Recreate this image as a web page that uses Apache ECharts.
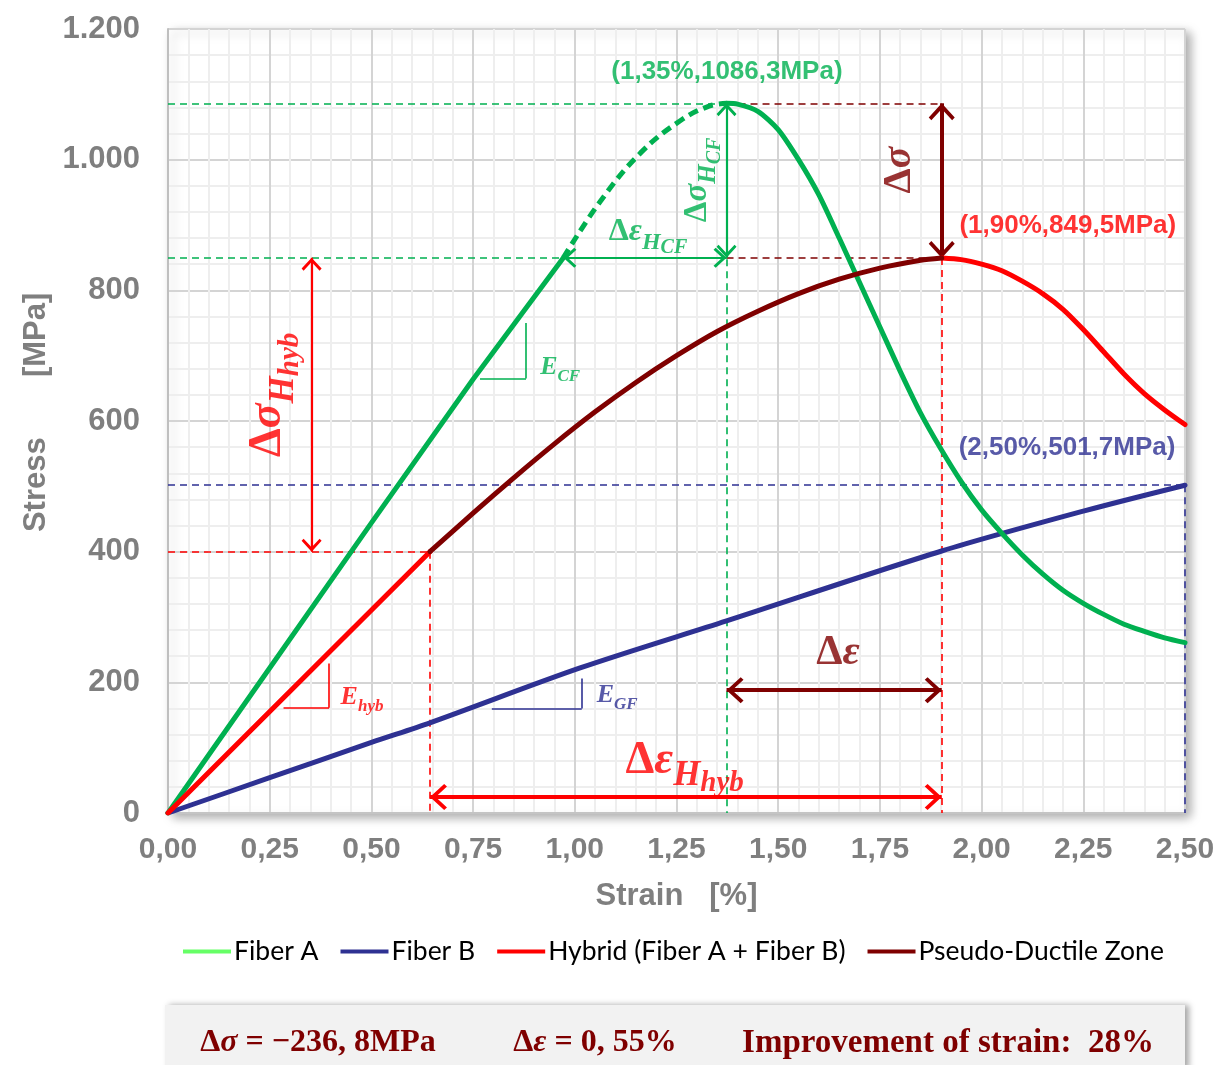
<!DOCTYPE html>
<html><head><meta charset="utf-8">
<script src="https://cdn.jsdelivr.net/npm/echarts@6/dist/echarts.min.js"></script>
<style>html,body{margin:0;padding:0;background:#fff}#c{width:1222px;height:1065px}</style>
</head><body><div id="c"></div><script>
// ---------------- data (strain %, stress MPa) ----------------
const fiberARise = [[0,0],[0.25,222],[0.5,444],[0.75,664],[0.972,850]];
const fiberAHardening = [[0.972,850],[1.0625,936],[1.161,1010],[1.26,1060],[1.33,1082],[1.373,1086.3]];
const fiberAFall = [[1.373,1086.3],[1.4,1085],[1.45,1074],[1.5,1046],[1.55,1000],[1.6,946],[1.65,880],[1.7,812],[1.75,744],[1.8,676],[1.85,612],[1.9,557],[1.95,507],[2.0,464],[2.05,428],[2.1,395],[2.15,366],[2.2,341],[2.25,321],[2.3,304],[2.35,289],[2.4,278],[2.45,268],[2.5,260.7]];
const fiberB = [[0,0],[0.25,54],[0.5,108],[0.644,138],[1.013,222],[1.373,294],[1.902,401],[2.25,462],[2.5,501.7]];
const hybridElastic = [[0,0],[0.644,400]];
const pseudoDuctile = [[0.644,400],[0.75,459],[0.85,513],[0.95,565],[1.05,614],[1.15,659],[1.25,700],[1.35,737],[1.45,768],[1.55,795],[1.65,817],[1.75,834],[1.85,846],[1.902,849.5]];
const hybridSoftening = [[1.902,849.5],[1.95,847],[2.0,840],[2.05,830],[2.1,814],[2.15,795],[2.2,771],[2.25,740],[2.3,706],[2.35,672],[2.4,642],[2.45,617],[2.5,594.6]];
const xTickValues = [0,0.25,0.5,0.75,1,1.25,1.5,1.75,2,2.25,2.5];
const yTickValues = [0,200,400,600,800,1000,1200];
const legendNames = ['Fiber A','Fiber B','Hybrid (Fiber A + Fiber B)','Pseudo-Ductile Zone'];

// guide lines [x1,y1,x2,y2,group]
const guideLines = [
  [0,1086.3,1.373,1086.3,'A'],[1.373,1086.3,1.902,1086.3,'P'],
  [0,850,1.373,850,'A'],[1.373,849.5,1.902,849.5,'P'],
  [1.373,1086.3,1.373,0,'A'],[1.902,849.5,1.902,0,'H'],
  [0,400,0.644,400,'H'],[0.644,400,0.644,0,'H'],
  [0,501.7,2.5,501.7,'B'],[2.5,501.7,2.5,0,'B']
];
// double arrows [x1,y1,x2,y2,group,weight]
const arrows = [
  [0.972,850,1.373,850,'A',1],[1.373,1086.3,1.373,850,'A',1],
  [1.902,1086.3,1.902,849.5,'P',2],[0.353,400,0.353,850,'H',1],
  [1.373,188,1.902,188,'P',2],[0.644,24.5,1.902,24.5,'H',2]
];
// slope triangles [x1,y1,x2,y2,group]
const slopeMarks = [
  [0.767,665,0.88,665,'A'],[0.88,665,0.88,750,'A'],
  [0.284,161,0.396,161,'H'],[0.396,161,0.396,229,'H'],
  [0.796,160,1.017,160,'B'],[1.017,160,1.017,206,'B']
];
// text annotations [x,y,id]
const textAnchors = [
  [1.374,1134,'ptA'],[2.212,898,'ptH'],[2.21,559,'ptB'],
  [1.315,969,'dsHCF'],[1.18,882,'deHCF'],[1.814,984,'ds'],
  [0.263,640,'dsHhyb'],[1.647,234,'de'],[1.27,69,'deHhyb'],
  [0.964,678,'ECF'],[0.477,173,'Ehyb'],[1.104,176,'EGF']
];

// ---------------- styles ----------------
const C = {A:'#00b050', B:'#2e3192', H:'#ff0000', P:'#7f0000'};
const LEG = {A:'#66ff66', B:'#2e3192', H:'#ff0000', P:'#7f0000'};
const arrowPath = 'path://M20,0 L20,0 M0,44 L20,24 L40,44 L36,48 L20,32 L4,48 Z';

function segItem(s, dashed, width, withArrow, asize) {
  const col = C[s[4]];
  const sym = withArrow ? arrowPath : 'none';
  return [
    {coord:[s[0],s[1]], symbol:sym, symbolSize:asize, lineStyle:{color:col, width:width, type:dashed?[7,5]:'solid'}, itemStyle:{color:col}},
    {coord:[s[2],s[3]], symbol:sym, symbolSize:asize, itemStyle:{color:col}}
  ];
}
const markData = []
  .concat(guideLines.map(s => segItem(s, true, 1.6, false, 0)))
  .concat(slopeMarks.map(s => segItem(s, false, 1.6, false, 0)))
  .concat(arrows.map(s => segItem(s, false, s[5]===2 ? 4 : 2.2, true, s[5]===2 ? [26,34] : [20,26])));

const SERIF = 'Liberation Serif';
function mathRich(color, s, r1, r2) {
  r1 = r1 || 0.75; r2 = r2 || 0.62;
  const base = {fontFamily:SERIF, fontWeight:'bold', color:color};
  return {
    d:Object.assign({}, base, {fontSize:s, verticalAlign:'bottom', padding:[0,0,Math.round(s*0.3),0]}),
    g:Object.assign({}, base, {fontSize:s, fontStyle:'italic', verticalAlign:'bottom', padding:[0,0,Math.round(s*0.3),0]}),
    s1:Object.assign({}, base, {fontSize:Math.round(s*r1), fontStyle:'italic', verticalAlign:'bottom', padding:[0,0,Math.round(s*0.08),0]}),
    s2:Object.assign({}, base, {fontSize:Math.round(s*r2), fontStyle:'italic', verticalAlign:'bottom', padding:[0,0,0,0]})
  };
}
function eRich(color, s) {
  const base = {fontFamily:SERIF, fontWeight:'bold', fontStyle:'italic', color:color};
  return {
    g:Object.assign({}, base, {fontSize:s, verticalAlign:'bottom', padding:[0,0,Math.round(s*0.2),0]}),
    s1:Object.assign({}, base, {fontSize:Math.round(s*0.66), verticalAlign:'bottom'})
  };
}
const ptStyle = c => ({fontFamily:'Liberation Sans', fontWeight:'bold', fontSize:26, color:c});
const labelDefs = {
  ptA:{formatter:'(1,35%,1086,3MPa)', ...ptStyle(C.A)},
  ptH:{formatter:'(1,90%,849,5MPa)', ...ptStyle(C.H)},
  ptB:{formatter:'(2,50%,501,7MPa)', ...ptStyle(C.B)},
  dsHCF:{formatter:'{d|Δ}{g|σ}{s1|H}{s2|CF}', rich:mathRich(C.A,33), rotate:90},
  deHCF:{formatter:'{d|Δ}{g|ε}{s1|H}{s2|CF}', rich:mathRich(C.A,32)},
  ds:{formatter:'{d|Δ}{g|σ}', rich:mathRich(C.P,40), rotate:90},
  dsHhyb:{formatter:'{d|Δ}{g|σ}{s1|H}{s2|hyb}', rich:mathRich(C.H,46), rotate:90},
  de:{formatter:'{d|Δ}{g|ε}', rich:mathRich(C.P,42)},
  deHhyb:{formatter:'{d|Δ}{g|ε}{s1|H}{s2|hyb}', rich:mathRich(C.H,46)},
  ECF:{formatter:'{g|E}{s1|CF}', rich:eRich(C.A,26)},
  Ehyb:{formatter:'{g|E}{s1|hyb}', rich:eRich(C.H,26)},
  EGF:{formatter:'{g|E}{s1|GF}', rich:eRich(C.B,26)}
};
const labelData = textAnchors.map(t => ({
  value:[t[0], t[1]],
  label:Object.assign({show:true, position:'inside', align:'center', verticalAlign:'middle'}, labelDefs[t[2]])
}));

const AX = '#7f7f7f';
const curve = (name, data, key, extra) => Object.assign({
  name:name, type:'line', data:data, showSymbol:false, symbol:'none',
  lineStyle:{color:C[key], width:5, cap:'round', join:'round'},
  itemStyle:{color:C[key]}, smooth:0.25, z:5, animation:false
}, extra || {});

const option = {
  animation:false,
  grid:{left:168, right:37, top:29, bottom:252, show:true, backgroundColor:'#fff',
        borderColor:'#d9d9d9', borderWidth:1, shadowColor:'rgba(0,0,0,0.35)', shadowBlur:10, shadowOffsetX:5, shadowOffsetY:4},
  xAxis:{type:'value', min:0, max:2.5, interval:0.25,
    axisLine:{show:true, onZero:false, lineStyle:{color:'#c4c4c4', width:2}}, axisTick:{show:false},
    axisLabel:{color:AX, fontFamily:'Liberation Sans', fontWeight:'bold', fontSize:30, margin:22,
      formatter:v => v.toFixed(2).replace('.', ',')},
    splitLine:{show:true, lineStyle:{color:'#d4d4d4', width:2}},
    minorTick:{show:false, splitNumber:5}, minorSplitLine:{show:true, lineStyle:{color:'#eeeeee', width:2}},
    name:'Strain   [%]', nameLocation:'middle', nameGap:68,
    nameTextStyle:{color:AX, fontFamily:'Liberation Sans', fontWeight:'bold', fontSize:31}},
  yAxis:{type:'value', min:0, max:1200, interval:200,
    axisLine:{show:true, lineStyle:{color:'#bfbfbf', width:2}}, axisTick:{show:false},
    axisLabel:{color:AX, fontFamily:'Liberation Sans', fontWeight:'bold', fontSize:31, margin:28,
      formatter:v => String(v).replace(/\B(?=(\d{3})+(?!\d))/g, '.')},
    splitLine:{show:true, lineStyle:{color:'#d4d4d4', width:2}},
    minorTick:{show:false, splitNumber:5}, minorSplitLine:{show:true, lineStyle:{color:'#eeeeee', width:2}},
    name:'  Stress       [MPa]', nameLocation:'middle', nameGap:116,
    nameTextStyle:{color:AX, fontFamily:'Liberation Sans', fontWeight:'bold', fontSize:31}},
  legend:{top:933, left:178, icon:'rect', itemWidth:48, itemHeight:4, itemGap:22,
    textStyle:{fontFamily:'Lato', fontSize:26.5, color:'#000', padding:[0,0,0,-2]},
    data:[
      {name:legendNames[0], itemStyle:{color:LEG.A}},
      {name:legendNames[1], itemStyle:{color:LEG.B}},
      {name:legendNames[2], itemStyle:{color:LEG.H}},
      {name:legendNames[3], itemStyle:{color:LEG.P}}
    ]},
  series:[
    {name:'annotations', type:'line', data:[], z:3, silent:true,
      markLine:{silent:true, animation:false, label:{show:false}, symbol:'none', data:markData}},
    curve(legendNames[1], fiberB, 'B', {smooth:0.3}),
    curve(legendNames[0], fiberARise, 'A', {smooth:false}),
    curve(legendNames[0], fiberAHardening, 'A', {smooth:0.4, lineStyle:{color:C.A, width:5, type:[10,6], cap:'butt'}}),
    curve(legendNames[0], fiberAFall, 'A'),
    curve(legendNames[2], hybridElastic, 'H', {smooth:false}),
    curve(legendNames[2], hybridSoftening, 'H'),
    curve(legendNames[3], pseudoDuctile, 'P'),
    {name:'labels', type:'scatter', data:labelData, symbolSize:0, z:10, silent:true, animation:false}
  ],
  graphic:[
    {type:'rect', shape:{x:165, y:1005, width:1020, height:64},
      style:{fill:'#f2f2f2', shadowBlur:6, shadowColor:'rgba(0,0,0,0.35)', shadowOffsetX:4, shadowOffsetY:0}},
    {type:'text', x:318, y:1043, style:{text:'{d|Δ}{g|σ}{d| = −236, 8MPa}', align:'center', verticalAlign:'middle',
      rich:{d:{fontFamily:SERIF, fontWeight:'bold', fontSize:32, fill:'#7f0000'}, g:{fontFamily:SERIF, fontWeight:'bold', fontStyle:'italic', fontSize:32, fill:'#7f0000'}}}},
    {type:'text', x:595, y:1043, style:{text:'{d|Δ}{g|ε}{d| = 0, 55%}', align:'center', verticalAlign:'middle',
      rich:{d:{fontFamily:SERIF, fontWeight:'bold', fontSize:32, fill:'#7f0000'}, g:{fontFamily:SERIF, fontWeight:'bold', fontStyle:'italic', fontSize:32, fill:'#7f0000'}}}},
    {type:'text', x:948, y:1043, style:{text:'Improvement of strain:  28%', align:'center', verticalAlign:'middle',
      fontFamily:SERIF, fontWeight:'bold', fontSize:33, fill:'#7f0000'}}
  ]
};
const chart = echarts.init(document.getElementById('c'), null, {renderer:'canvas'});
chart.setOption(option);
</script></body></html>
